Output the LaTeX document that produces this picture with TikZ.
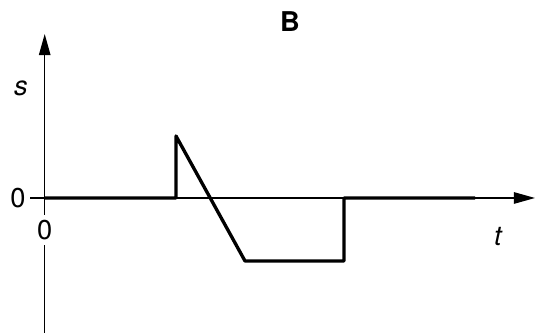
\documentclass[tikz,border=0pt]{standalone}
\usepackage{fontspec}
\setmainfont{TeX Gyre Heros}
\usetikzlibrary{arrows.meta}
\tikzset{
    axis/.style={line width=0.8pt, -{Triangle[length=12pt,width=6.5pt]}},
    signal/.style={line width=1.9pt, line join=round},
    lbl/.style={font=\fontsize{15.5}{18}\selectfont, inner sep=0pt}
}

\begin{document}
\begin{tikzpicture}[x=0.02cm,y=0.02cm]
    \useasboundingbox (0,0) rectangle (537,333);

    \coordinate (ORIGIN) at (44.7,135);
    \coordinate (TLEFT) at (30,135);
    \coordinate (TEND) at (535,135);
    \coordinate (SBOT) at (44.7,0);
    \coordinate (SEND) at (44.7,299);

    \draw[axis] (SBOT) -- (SEND);
    \draw[axis] (TLEFT) -- (TEND);

    \node[lbl, fill=white, inner sep=3pt] (ZEROT) at (44.7,103) {0};
    \node[lbl] (ZEROS) at (18,135) {0};
    \node[lbl] (S) at (21,245) {\itshape s};
    \node[lbl] (T) at (498,96) {\itshape t};
    \node[lbl] (TITLE) at (290,311) {\bfseries B};

    % the pulse
    \coordinate (RISE) at (176,135);
    \coordinate (PEAK) at (176,197);
    \coordinate (LOWL) at (245,72);
    \coordinate (LOWR) at (344,72);
    \coordinate (BACK) at (344,135);
    \coordinate (STOP) at (475,135);
    \draw[signal] (ORIGIN) -- (RISE) -- (PEAK) -- (LOWL) -- (LOWR) -- (BACK) -- (STOP);
\end{tikzpicture}
\end{document}
